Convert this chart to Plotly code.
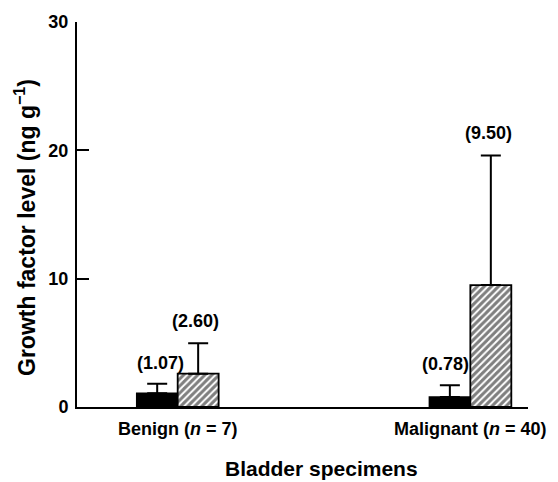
import plotly.graph_objects as go

categories = ["Benign (<i>n</i> = 7)", "Malignant (<i>n</i> = 40)"]
solid_means = [1.07, 0.78]
solid_sd = [0.75, 0.92]
hatched_means = [2.60, 9.50]
hatched_sd = [2.36, 10.1]
yticks = [0, 10, 20, 30]

FONT = "Liberation Sans, Arial, sans-serif"
xpos = [0, 1]

fig = go.Figure()
fig.add_trace(go.Bar(
    x=xpos, y=solid_means,
    marker=dict(color="black", line=dict(color="black", width=1.5)),
    error_y=dict(type="data", symmetric=False, array=solid_sd, arrayminus=[0, 0],
                 color="black", thickness=2, width=10),
    showlegend=False,
))
fig.add_trace(go.Bar(
    x=xpos, y=hatched_means,
    marker=dict(color="white", line=dict(color="black", width=1.8),
                pattern=dict(shape="/", fgcolor="black", bgcolor="white", size=5, solidity=0.6)),
    error_y=dict(type="data", symmetric=False, array=hatched_sd, arrayminus=[0, 0],
                 color="black", thickness=2, width=10),
    showlegend=False,
))

# value labels above error bars
solid_shift = [-17, -25]
hatched_shift = [18, 18]
for i in range(2):
    fig.add_annotation(x=xpos[i], y=solid_means[i] + solid_sd[i], text=f"<b>({solid_means[i]:.2f})</b>",
                       xshift=solid_shift[i], yshift=21, showarrow=False,
                       xanchor="center", yanchor="middle",
                       font=dict(size=18, color="black", family=FONT))
    fig.add_annotation(x=xpos[i], y=hatched_means[i] + hatched_sd[i], text=f"<b>({hatched_means[i]:.2f})</b>",
                       xshift=hatched_shift[i], yshift=22, showarrow=False,
                       xanchor="center", yanchor="middle",
                       font=dict(size=18, color="black", family=FONT))

# axis titles as annotations for precise placement
fig.add_annotation(xref="paper", yref="paper", x=0, y=0.465, xshift=-52, textangle=-90,
                   xanchor="center", yanchor="middle",
                   text="<b>Growth factor level (ng g<sup>−1</sup>)</b>", showarrow=False,
                   font=dict(size=23, color="black", family=FONT))
fig.add_annotation(xref="paper", yref="paper", x=0.543, y=0, yshift=-61,
                   xanchor="center", yanchor="middle",
                   text="<b>Bladder specimens</b>", showarrow=False,
                   font=dict(size=21, color="black", family=FONT))

fig.update_layout(
    width=558, height=482,
    margin=dict(l=77, r=28, t=21, b=75),
    plot_bgcolor="white", paper_bgcolor="white",
    barmode="group", bargap=0.72, bargroupgap=0,
    font=dict(family=FONT, color="black", size=13),
    xaxis=dict(
        range=[-0.344, 1.197], tickvals=xpos,
        ticktext=[f"<b>{c}</b>" for c in categories],
        showline=True, linecolor="black", linewidth=2, ticks="", showgrid=False,
        zeroline=False, tickfont=dict(size=18), ticklabelstandoff=4,
    ),
    yaxis=dict(
        range=[0, 30], tickvals=yticks, ticktext=[f"<b>{v}</b>" for v in yticks],
        ticks="inside", ticklen=12, tickwidth=2,
        tickcolor="black", showline=True, linecolor="black", linewidth=2,
        showgrid=False, zeroline=False, tickfont=dict(size=18), ticklabelstandoff=3,
    ),
)

fig.write_html("out.html")
